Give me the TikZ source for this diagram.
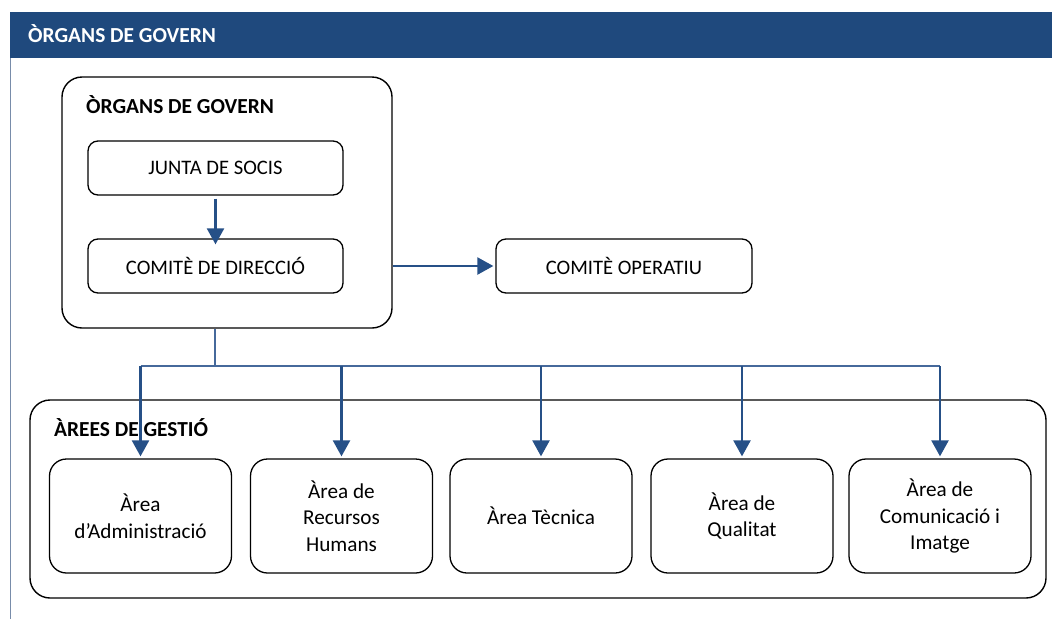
\documentclass[tikz,border=0pt]{standalone}
\usepackage{fontspec}
\setmainfont{Carlito}
\usetikzlibrary{arrows.meta}
\definecolor{hdrblue}{RGB}{31,73,125}
\definecolor{linkblue}{RGB}{38,80,135}
\definecolor{thinblue}{RGB}{70,105,155}
\definecolor{sideline}{RGB}{120,140,170}
\begin{document}
\begin{tikzpicture}[x=1pt,y=-1pt,
  bigbox/.style={draw=black,line width=1.4pt,rounded corners=20pt,inner sep=0pt},
  smallbox/.style={draw=black,line width=1.3pt,rounded corners=10pt,inner sep=0pt,
    minimum width=255pt,minimum height=54pt,font=\fontsize{20.6}{24}\selectfont},
  areabox/.style={draw=black,line width=1.3pt,rounded corners=17pt,inner sep=0pt,
    minimum width=182pt,minimum height=114pt,align=center,
    font=\fontsize{21.2}{26.5}\selectfont},
  title/.style={anchor=base west,inner sep=0pt,font=\fontsize{21.4}{24}\selectfont\bfseries},
  arr/.style={draw=linkblue,line width=2.4pt,-{Triangle[length=16pt,width=17pt]}},
  thin/.style={draw=thinblue,line width=1.2pt}
]
\useasboundingbox (0,0) rectangle (1052,619);
% header
\fill[hdrblue] (10,12) rectangle (1052,58);
\node[title,text=white] (hdr) at (28,42) {ÒRGANS DE GOVERN};
\draw[sideline,line width=1pt] (10,58) -- (10,619);
% governing bodies
\node[bigbox,minimum width=330pt,minimum height=251pt] (gov) at (227,202.5) {};
\node[title] (govt) at (86,113) {ÒRGANS DE GOVERN};
\node[smallbox] (junta) at (215.5,168) {JUNTA DE SOCIS};
\node[smallbox] (dir) at (215.5,266) {COMITÈ DE DIRECCIÓ};
\node[smallbox,minimum width=256pt] (op) at (624,266) {COMITÈ OPERATIU};
\draw[arr] ([yshift=-3pt]junta.south) -- ([yshift=-6pt]dir.north);
\draw[arr] (gov.east |- dir) -- ([xshift=-2pt]op.west);
% management areas
\node[bigbox,minimum width=1016pt,minimum height=198pt] (areas) at (538,499) {};
\node[title] (areast) at (54,436) {ÀREES DE GESTIÓ};
\node[areabox] (a1) at (140.5,516) {Àrea\\d’Administració};
\node[areabox] (a2) at (341.5,516) {Àrea de\\Recursos\\Humans};
\node[areabox] (a3) at (541,516) {Àrea Tècnica};
\node[areabox] (a4) at (742,516) {Àrea de\\Qualitat};
\node[areabox] (a5) at (940,516) {Àrea de\\Comunicació i\\Imatge};
% connectors
\coordinate (bus) at (215,366);
\coordinate (busl) at (a1.north |- bus);
\coordinate (busr) at (a5.north |- bus);
\draw[thin] (gov.south -| bus) -- (bus);
\draw[thin] (busl) -- (busr);
\foreach \n in {a1,a2,a3,a4,a5}{
  \draw[arr] (\n.north |- bus) -- ([yshift=2pt]\n.north);
}
\end{tikzpicture}
\end{document}
